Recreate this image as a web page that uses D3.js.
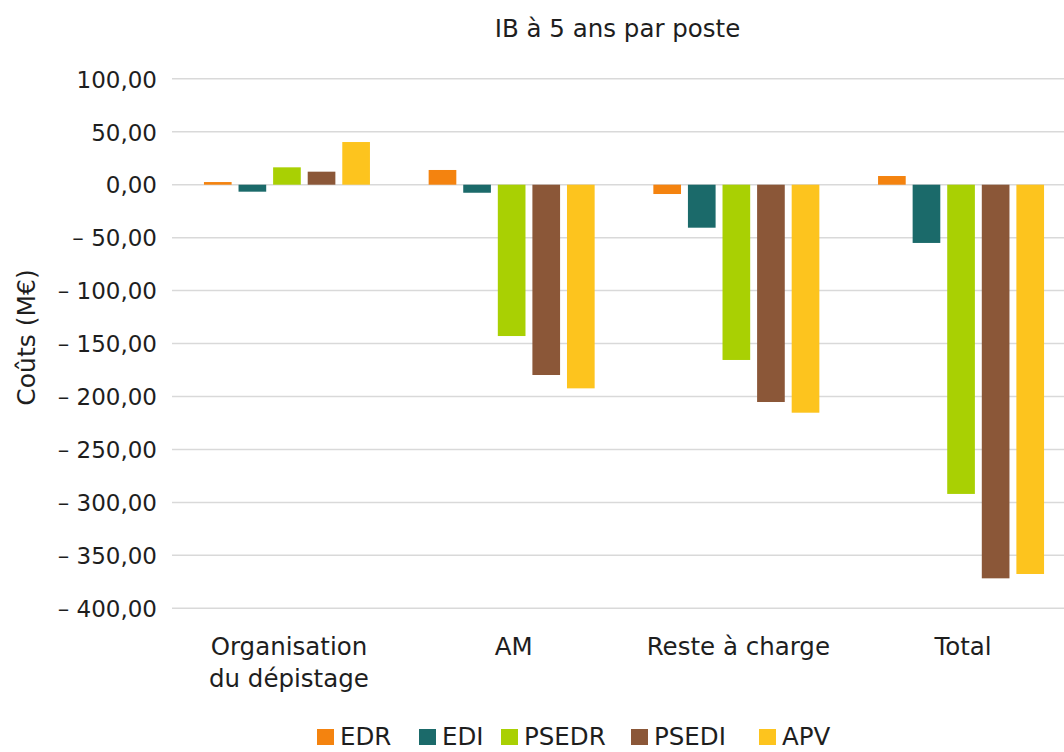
<!DOCTYPE html>
<html><head><meta charset="utf-8">
<script src="https://cdn.jsdelivr.net/npm/d3@7"></script>
<style>body{margin:0;background:#fff;}svg{display:block;font-family:"DejaVu Sans",sans-serif;}</style>
</head><body>
<svg id="c" width="1064" height="752"></svg>
<script>
const categories = [["Organisation","du dépistage"],["AM"],["Reste à charge"],["Total"]];
const seriesNames = ["EDR","EDI","PSEDR","PSEDI","APV"];
const colors = ["#F4830F","#1B6A6A","#A9D003","#8B5738","#FDC41E"];
const EDR = [2.5, 13.9, -8.8, 8.2];
const EDI = [-6.6, -7.6, -40.6, -55];
const PSEDR = [16.4, -142.9, -165.5, -292];
const PSEDI = [12.3, -179.7, -205.2, -371.7];
const APV = [40.3, -192.3, -215.3, -367.6];
const seriesValues = [EDR, EDI, PSEDR, PSEDI, APV];
const yTicks = [100,50,0,-50,-100,-150,-200,-250,-300,-350,-400];

const svg = d3.select("#c");
const mLeft = 174.6, mRight = 1073.4, mTop = 78.8, mBottom = 608.3;
const groupW = 166;
const x0 = d3.scaleBand().domain(d3.range(categories.length)).range([mLeft, mRight]);
const x1 = d3.scaleBand().domain(d3.range(seriesNames.length)).range([0, groupW]).paddingInner(0.2);
const y = d3.scaleLinear().domain([-400, 100]).range([mBottom, mTop]);
const fmt = v => (v < 0 ? "\u2013 " : "") + d3.format(".2f")(Math.abs(v)).replace(".", ",");
const ink = "#1e1e1e";

// gridlines
svg.append("g").selectAll("line").data(yTicks).join("line")
  .attr("x1", 172).attr("x2", 1064)
  .attr("y1", d => y(d)).attr("y2", d => y(d))
  .attr("stroke", "#d9d9d9").attr("stroke-width", 1.5);

// y labels
const yAxis = d3.axisLeft(y).tickValues(yTicks).tickFormat(fmt).tickSize(0).tickPadding(0);
const gy = svg.append("g").attr("transform", "translate(157,0)").call(yAxis);
gy.select(".domain").remove();
gy.selectAll("text").attr("font-size", 23).attr("fill", ink)
  .attr("font-family", "DejaVu Sans").attr("dy", "0.36em");

// bars
const groups = svg.append("g").selectAll("g").data(categories).join("g")
  .attr("transform", (d, i) => `translate(${x0(i) + (x0.bandwidth() - groupW) / 2},0)`);
groups.selectAll("rect").data((d, i) => seriesValues.map((s, k) => ({k, v: s[i]}))).join("rect")
  .attr("x", d => x1(d.k)).attr("width", x1.bandwidth())
  .attr("y", d => y(Math.max(0, d.v))).attr("height", d => Math.abs(y(d.v) - y(0)))
  .attr("fill", d => colors[d.k]);

// x labels
const xl = svg.append("g").selectAll("text").data(categories).join("text")
  .attr("text-anchor", "middle").attr("font-size", 24.5).attr("fill", ink)
  .attr("x", (d, i) => x0(i) + x0.bandwidth() / 2 + 2).attr("y", 655);
xl.selectAll("tspan").data(d => d).join("tspan")
  .attr("x", function(){ return this.parentNode.getAttribute("x"); })
  .attr("dy", (d, i) => i === 0 ? 0 : 32).text(d => d);

// title
svg.append("text").attr("x", 617.5).attr("y", 37).attr("text-anchor", "middle")
  .attr("font-size", 24.5).attr("fill", ink).text("IB à 5 ans par poste");

// y title
svg.append("text").attr("transform", "translate(35,337.5) rotate(-90)").attr("text-anchor", "middle")
  .attr("font-size", 25).attr("fill", ink).text("Coûts (M€)");

// legend
const legX = [317, 419, 501, 631, 759];
const lg = svg.append("g").selectAll("g").data(seriesNames).join("g")
  .attr("transform", (d, i) => `translate(${legX[i]},745)`);
lg.append("rect").attr("x", 0).attr("y", -16).attr("width", 17).attr("height", 16).attr("fill", (d, i) => colors[i]);
lg.append("text").attr("x", 23).attr("y", 0).attr("font-size", 24.5).attr("fill", ink).text(d => d);
</script>
</body></html>
